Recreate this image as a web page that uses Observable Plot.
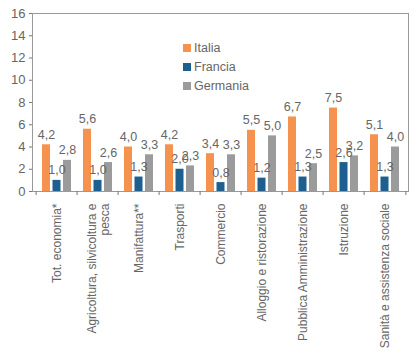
<!DOCTYPE html>
<html>
<head>
<meta charset="utf-8">
<script src="https://cdn.jsdelivr.net/npm/d3@7"></script>
<script src="https://cdn.jsdelivr.net/npm/@observablehq/plot@0.6"></script>
<style>
  body { margin: 0; background: #fff; }
  #wrap { position: relative; width: 419px; height: 355px; font-family: "Liberation Sans", Arial, sans-serif; }
  #legend { position: absolute; left: 183px; top: 38px; font-size: 12.5px; color: #666; }
  .row { display: flex; align-items: center; height: 19px; }
  .sw { width: 8px; height: 8px; margin-right: 3px; }
</style>
</head>
<body>
<div id="wrap"></div>
<script>
const categories = [
  "Tot. economia*",
  "Agricoltura, silvicoltura e\npesca",
  "Manifattura**",
  "Trasporti",
  "Commercio",
  "Alloggio e ristorazione",
  "Pubblica Amministrazione",
  "Istruzione",
  "Sanità e assistenza sociale"
];
const series = ["Italia", "Francia", "Germania"];
const colors = ["#F5924E", "#1D5F8F", "#9B9B9B"];
const italia   = [4.2, 5.6, 4.0, 4.2, 3.4, 5.5, 6.7, 7.5, 5.1];
const francia  = [1.0, 1.0, 1.3, 2.0, 0.8, 1.2, 1.3, 2.6, 1.3];
const germania = [2.8, 2.6, 3.3, 2.3, 3.3, 5.0, 2.5, 3.2, 4.0];
const yTicks = [0, 2, 4, 6, 8, 10, 12, 14, 16];

const values = [italia, francia, germania];
const fmt = v => v.toFixed(1).replace(".", ",");
const offsets = [-10.5, 0, 10.5];

const marks = [];
series.forEach((s, i) => {
  const data = categories.map((c, j) => ({cat: c, v: values[i][j]}));
  marks.push(Plot.barY(data, {x: "cat", y: "v", fill: colors[i], insetLeft: 16.5, insetRight: 16.5, dx: offsets[i]}));
});
series.forEach((s, i) => {
  const data = categories.map((c, j) => ({cat: c, v: values[i][j]}));
  marks.push(Plot.text(data, {x: "cat", y: "v", text: d => fmt(d.v), dx: offsets[i], dy: -10, fill: "#666", fontSize: 12.5}));
});

const chart = Plot.plot({
  width: 419,
  height: 355,
  marginLeft: 32,
  marginRight: 11,
  marginTop: 13,
  marginBottom: 164,
  style: {fontFamily: "'Liberation Sans', Arial, sans-serif", color: "#666", background: "#fff"},
  x: {domain: categories, padding: 0, label: null},
  y: {domain: [0, 16], label: null},
  marks: [
    Plot.frame({stroke: "#999", strokeWidth: 1}),
    Plot.axisY({ticks: yTicks, tickSize: 3, tickPadding: 4, fontSize: 13, label: null, stroke: "#777", fill: "#666"}),
    Plot.axisX({ticks: categories, tickSize: 4, dx: -20.9, text: null, stroke: "#777"}),
    Plot.axisX({ticks: [categories[categories.length - 1]], tickSize: 4, dx: 20.9, text: null, stroke: "#777"}),
    Plot.axisX({ticks: categories, tickSize: 0, tickPadding: 12, tickRotate: -90, fontSize: 12, label: null, fill: "#666", lineHeight: 1.15}),
    ...marks
  ]
});

const wrap = document.getElementById("wrap");
wrap.appendChild(chart);
const legend = document.createElement("div");
legend.id = "legend";
series.forEach((s, i) => {
  const row = document.createElement("div");
  row.className = "row";
  const sw = document.createElement("div");
  sw.className = "sw";
  sw.style.background = colors[i];
  const t = document.createElement("span");
  t.textContent = s;
  row.appendChild(sw);
  row.appendChild(t);
  legend.appendChild(row);
});
wrap.appendChild(legend);
</script>
</body>
</html>
